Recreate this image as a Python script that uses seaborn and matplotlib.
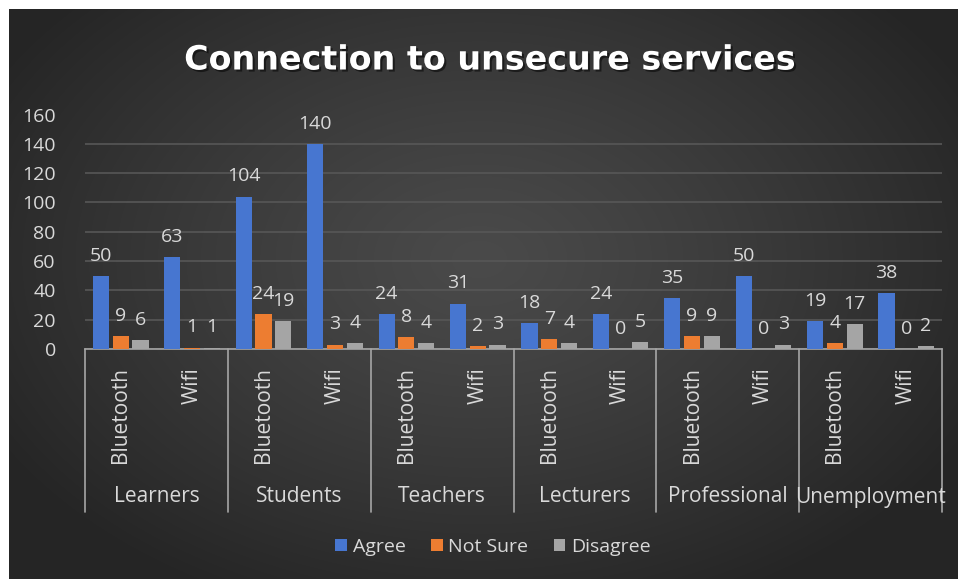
import numpy as np
import pandas as pd
import matplotlib
matplotlib.use("Agg")
import matplotlib.pyplot as plt
import matplotlib.patheffects as pe
import seaborn as sns

# ---- data ----
groups = ["Learners", "Students", "Teachers", "Lecturers", "Professional", "Unemployment"]
devices = ["Bluetooth", "Wifi"]
responses = ["Agree", "Not Sure", "Disagree"]
agree = [50, 63, 104, 140, 24, 31, 18, 24, 35, 50, 19, 38]
not_sure = [9, 1, 24, 3, 8, 2, 7, 0, 9, 0, 4, 0]
disagree = [6, 1, 19, 4, 4, 3, 4, 5, 9, 3, 17, 2]
y_ticks = [0, 20, 40, 60, 80, 100, 120, 140, 160]

colors = ["#4776D0", "#ED7D31", "#A5A5A5"]
text_col = "#D9D9D9"

rows = []
keys = []
for gi, g in enumerate(groups):
    for di, d in enumerate(devices):
        idx = gi * len(devices) + di
        key = f"{g}|{d}"
        keys.append(key)
        for r, vals in zip(responses, [agree, not_sure, disagree]):
            rows.append({"key": key, "group": g, "device": d, "response": r, "value": vals[idx]})
df = pd.DataFrame(rows)

sns.set_theme(style="dark")
plt.rcParams["font.family"] = ["Open Sans", "DejaVu Sans"]

W, H, DPI = 958, 579, 100
fig = plt.figure(figsize=(W / DPI, H / DPI), dpi=DPI, facecolor="white")

# radial dark background panel
bg = fig.add_axes([9 / W, 0, 1 - 9 / W, 1 - 9 / H], zorder=-10)
yy, xx = np.mgrid[0:H - 9, 0:W - 9]
cx, cy = 470, 250
r = np.sqrt(((xx - cx) / 560.0) ** 2 + ((yy - cy) / 380.0) ** 2)
r = np.clip(r, 0, 1)
c_in, c_out = 0x4A / 255, 0x25 / 255
shade = c_in + (c_out - c_in) * r ** 1.2
bg.imshow(np.dstack([shade, shade, shade]), aspect="auto", interpolation="bilinear")
bg.set_axis_off()

ax = fig.add_axes([85 / W, 230 / H, 857 / W, 234.5 / H])
ax.set_facecolor("none")

sns.barplot(data=df, x="key", y="value", hue="response", order=keys,
            hue_order=responses, palette=colors, width=0.83, gap=0.18,
            saturation=1, ax=ax, legend=True, zorder=3,
            linewidth=0, edgecolor="none")

for cont in ax.containers:
    ax.bar_label(cont, padding=8, color=text_col, fontsize=14)

ax.set_ylim(0, 160)
ax.set_xlim(-0.5, len(keys) - 0.5)
ax.set_yticks(y_ticks)
ax.set_yticklabels([str(t) for t in y_ticks], color=text_col, fontsize=14)
ax.yaxis.grid(True, color="#575757", linewidth=1.2, zorder=0)
ax.xaxis.grid(False)
ax.tick_params(axis="y", length=0, pad=21)
ax.tick_params(axis="x", length=0, pad=13)
ax.set_xticks(range(len(keys)))
ax.set_xticklabels([k.split("|")[1] for k in keys], rotation=90, va="top",
                   ha="center", color=text_col, fontsize=15)
ax.set_xlabel("")
ax.set_ylabel("")
for s in ["left", "right", "top"]:
    ax.spines[s].set_visible(False)
ax.spines["bottom"].set_color("#A6A6A6")
ax.spines["bottom"].set_linewidth(1.2)

# multi-level category axis: dividers and group names
trans = ax.get_xaxis_transform()
for i in range(len(groups) + 1):
    xb = i * len(devices) - 0.5
    ax.plot([xb, xb], [0, -163 / 234.5], transform=trans, color="#A6A6A6",
            linewidth=1.2, clip_on=False)
for gi, g in enumerate(groups):
    xc = gi * len(devices) + (len(devices) - 1) / 2
    ax.text(xc, -148 / 234.5, g, transform=trans, ha="center", va="center",
            color=text_col, fontsize=15)

# legend
handles, labels = ax.get_legend_handles_labels()
ax.legend_.remove()
for h in handles:
    h.set_edgecolor("none")
    h.set_linewidth(0)
fig.legend(handles, labels, loc="center", bbox_to_anchor=(493 / W, 1 - 547 / H),
           ncol=3, frameon=False, fontsize=14, labelcolor=text_col,
           handlelength=0.6, handleheight=0.6, handletextpad=0.3, columnspacing=1.3)

fig.text(490 / W, 1 - 60 / H, "Connection to unsecure services", ha="center",
         va="center", color="white", fontsize=24, fontweight="bold",
         family=["DejaVu Sans"],
         path_effects=[pe.withSimplePatchShadow(offset=(1.5, -1.5), shadow_rgbFace="black", alpha=0.5)])

fig.savefig("out.png", dpi=DPI, facecolor=fig.get_facecolor())
